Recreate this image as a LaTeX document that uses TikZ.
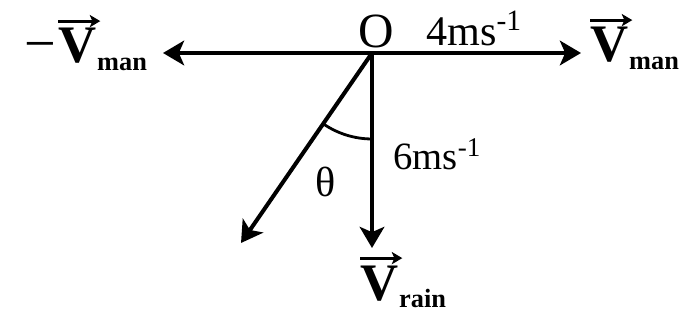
\documentclass[tikz,border=0pt]{standalone}
\usepackage{fontspec}
\setmainfont{Liberation Serif}
\usetikzlibrary{arrows.meta,calc}
\begin{document}
\begin{tikzpicture}[x=0.02cm,y=-0.02cm,
    vecline/.style={line width=2.3pt,-{Stealth[length=12pt,width=14pt,inset=3pt]}},
    vecmark/.style={line width=1.7pt,-{Stealth[length=6pt,width=7pt,inset=1.5pt]}},
    lbl/.style={inner sep=0pt,anchor=base west,font=\fontsize{24}{26}\selectfont},
    vlet/.style={inner sep=0pt,anchor=base west,font=\fontsize{30}{30}\selectfont\bfseries},
    vsub/.style={inner sep=0pt,anchor=base west,font=\fontsize{15}{15}\selectfont\bfseries}]
    \useasboundingbox (0,0) rectangle (682,327);
    \coordinate (O) at (372,53);
    \coordinate (L) at (163,53);
    \coordinate (R) at (581,53);
    \coordinate (D) at (372,248);
    \coordinate (S) at (241,243);
    \draw[vecline] (O) -- (L);
    \draw[vecline] (O) -- (R);
    \draw[vecline] (O) -- (D);
    \draw[vecline] (O) -- (S);
    % angle between rain and vertical
    \coordinate (A) at ($(O)+(235.4:1.72cm)$);
    \draw[line width=1.6pt] (A) arc[start angle=235.4,end angle=270,radius=1.72cm];
    \node[lbl,font=\fontsize{28}{30}\selectfont] (o) at (358,48) {O};
    \node[lbl] (vman) at (426,46) {4ms\textsuperscript{-1}};
    \node[lbl,font=\fontsize{22}{24}\selectfont] (vrain) at (393,170) {6ms\textsuperscript{-1}};
    \node[lbl] (th) at (315,197) {θ};
    % velocity labels
    \node[vlet] (vl) at (58,63) {V};
    \node[vsub] (vlsub) at ([yshift=-4pt]vl.base east) {man};
    \node[lbl,anchor=base east,font=\fontsize{32}{32}\selectfont] (minus) at ([xshift=-1pt]vl.base west) {−};
    \node[vlet] (vr) at (590,62) {V};
    \node[vsub] (vrsub) at ([yshift=-4pt]vr.base east) {man};
    \node[vlet] (vd) at (360,300) {V};
    \node[vsub] (vdsub) at ([yshift=-4pt]vd.base east) {rain};
    \foreach \v in {vl,vr,vd}
      \draw[vecmark] ([yshift=4pt]\v.north west) -- ([yshift=4pt,xshift=2pt]\v.north east);
  \end{tikzpicture}
\end{document}
